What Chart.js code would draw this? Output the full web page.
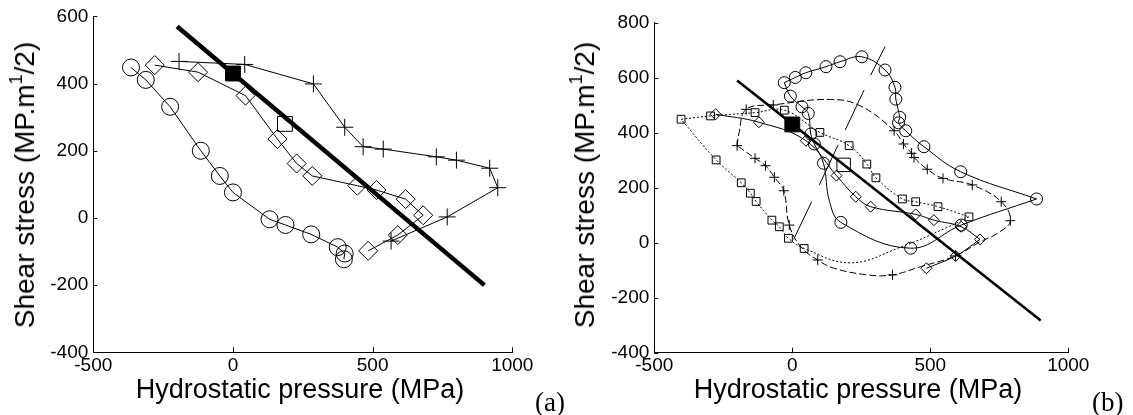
<!DOCTYPE html>
<html><head><meta charset="utf-8">
<script src="https://cdn.jsdelivr.net/npm/chart.js@4/dist/chart.umd.min.js"></script>
<style>
html,body{margin:0;padding:0;background:#fff;}
#wrap{position:relative;width:1133px;height:415px;overflow:hidden;background:#fff;font-family:"Liberation Sans",Arial,sans-serif;color:#000;}
canvas{position:absolute;top:0;}
.xt{position:absolute;font-size:27px;line-height:27px;white-space:nowrap;transform:translateX(-50%);}
.yt{position:absolute;font-size:28px;line-height:28px;white-space:nowrap;transform:translate(-50%,-50%) rotate(-90deg);}
.yt sup{font-size:18px;line-height:0;vertical-align:0;position:relative;top:-12px;}
.pl{position:absolute;font-family:"Liberation Serif","Times New Roman",serif;font-size:27px;line-height:27px;white-space:nowrap;}
</style></head>
<body><div id="wrap">
<canvas id="ca" width="560" height="415" style="left:0;width:560px;height:415px"></canvas>
<canvas id="cb" width="573" height="415" style="left:560px;width:573px;height:415px"></canvas>
<div class="xt" style="left:300px;top:376px">Hydrostatic pressure (MPa)</div>
<div class="xt" style="left:858px;top:376px">Hydrostatic pressure (MPa)</div>
<div class="yt" style="left:25px;top:185px">Shear stress (MP.m<sup>1</sup>/2)</div>
<div class="yt" style="left:585px;top:185px">Shear stress (MP.m<sup>1</sup>/2)</div>
<div class="pl" style="left:535px;top:389px">(a)</div>
<div class="pl" style="left:1092px;top:389px">(b)</div>
</div>
<script>
// ---------- tick labels ----------
const xTicks = [-500, 0, 500, 1000];
const aYTicks = [-400, -200, 0, 200, 400, 600];
const bYTicks = [-400, -200, 0, 200, 400, 600, 800];

// ---------- panel (a) ----------
const aCircleX = [-365, -312, -225, -115, -47, 0, 131, 188, 280, 375, 400, 397];
const aCircleY = [448, 411, 331, 200, 125, 76, -4, -21, -49, -87, -106, -123];
const aDiamondX = [-280, -125, 45, 159, 228, 284, 445, 514, 618, 681, 590, 484];
const aDiamondY = [455, 434, 364, 235, 162, 125, 96, 83, 56, 8, -51, -98];
const aPlusX = [-193, 42, 288, 400, 466, 538, 728, 800, 919, 948, 767, 566];
const aPlusY = [466, 457, 399, 270, 212, 205, 182, 172, 148, 90, 3, -69];
const aFitX = [-200, 900];
const aFitY = [570, -200];
const aRefX = [0], aRefY = [430];
const aOpenX = [186], aOpenY = [280];

// ---------- panel (b) ----------
const bFitX = [-200, 0, 900];
const bFitY = [590, 432, -283];
const bRefX = [0], bRefY = [430];
const bOpenX = [186], bOpenY = [283];

const bCircleX = [-29, 11, 49, 122, 173, 252, 336, 372, 375, 389, 385, 411, 477, 610, 885, 612, 429, 176, 113, 80, 67, 58, 35, -7];
const bCircleY = [582, 601, 618, 640, 658, 676, 628, 565, 522, 456, 436, 407, 349, 258, 159, 64, -20, 74, 289, 359, 395, 470, 494, 533];
const bCircleArc1X = [-29, 11, 49, 122, 173, 252, 336, 372, 375, 389, 385, 411, 477, 610, 885];
const bCircleArc1Y = [582, 601, 618, 640, 658, 676, 628, 565, 522, 456, 436, 407, 349, 258, 159];
const bCircleArc2X = [885, 612, 429, 176, 135, 113, 80, 67, 58, 35, -7, -29];
const bCircleArc2Y = [159, 64, -20, 74, 150, 289, 359, 395, 470, 494, 533, 582];

const bDiamondX = [-278, -121, 49, 160, 230, 284, 447, 513, 612, 680, 592, 486];
const bDiamondY = [467, 438, 371, 244, 167, 131, 103, 82, 58, 12, -48, -93];
const bDiamondArc1X = [-278, -121, 49, 160, 230, 284, 447, 513, 612, 680];
const bDiamondArc1Y = [467, 438, 371, 244, 167, 131, 103, 82, 58, 12];
const bDiamondArc2X = [680, 592, 486];
const bDiamondArc2Y = [12, -48, -93];

const bPlusX = [-167, -69, 369, 403, 432, 441, 489, 546, 652, 757, 790, 591, 363, 92, -11, -31, -65, -97, -135, -200];
const bPlusY = [485, 501, 407, 359, 325, 310, 267, 234, 210, 149, 80, -48, -117, -63, 64, 189, 238, 280, 307, 353];
const bPlusPathX = [-200, -193, -167, -69, 139, 248, 369, 403, 432, 441, 489, 546, 652, 757, 790, 743, 682, 591, 465, 363, 272, 152, 92, 31, -11, -31, -65, -97, -135, -200];
const bPlusPathY = [353, 400, 485, 501, 521, 497, 407, 359, 325, 310, 267, 234, 210, 149, 80, 34, 4, -48, -87, -117, -117, -93, -63, -15, 64, 189, 238, 280, 307, 353];

const bSquareX = [-403, -296, -135, -29, 100, 206, 270, 303, 399, 447, 528, 640, 43, -14, -47, -74, -131, -152, -185, -276];
const bSquareY = [449, 461, 473, 482, 401, 353, 286, 236, 159, 149, 131, 94, -21, 16, 58, 82, 150, 180, 218, 301];
const bSquareArc1X = [-403, -296, -135, -29, 100, 206, 270, 303, 399, 447, 528, 640];
const bSquareArc1Y = [449, 461, 473, 482, 401, 353, 286, 236, 159, 149, 131, 94];
const bSquareArc2X = [640, 560, 395, 212, 43, -14, -47, -74, -131, -152, -185, -276, -403];
const bSquareArc2Y = [94, 55, -15, -73, -21, 16, 58, 82, 150, 180, 218, 301, 449];

const bSegX1 = [284, 192, 98, 5];
const bSegY1 = [609, 410, 210, 12];
const bSegX2 = [336, 260, 166, 70];
const bSegY2 = [713, 555, 356, 149];

// ---------- helpers ----------
const FONT = '"Liberation Sans", Arial, sans-serif';
const pts = (xs, ys) => xs.map((x, i) => ({x: x, y: ys[i]}));
function curve(xs, ys, width, dash, tension) {
  return {data: pts(xs, ys), showLine: true, pointRadius: 0, borderColor: '#000',
    borderWidth: width, borderDash: dash || [], tension: tension || 0, fill: false};
}
function marks(xs, ys, style, r, fillColor, lineThrough) {
  return {data: pts(xs, ys), showLine: !!lineThrough, borderColor: '#000', borderWidth: 1,
    pointStyle: style, pointRadius: r, pointBorderColor: '#000', pointBorderWidth: 1,
    pointBackgroundColor: fillColor || 'rgba(0,0,0,0)', tension: 0, fill: false};
}
const inwardTicks = {
  id: 'inwardTicks',
  afterDraw(chart) {
    const {ctx, chartArea: ca, scales} = chart;
    ctx.save();
    ctx.strokeStyle = '#000'; ctx.lineWidth = 1;
    scales.x.ticks.forEach(t => {
      const px = Math.round(scales.x.getPixelForValue(t.value)) + 0.5;
      ctx.beginPath(); ctx.moveTo(px, ca.bottom); ctx.lineTo(px, ca.bottom - 5); ctx.stroke();
    });
    scales.y.ticks.forEach(t => {
      const py = Math.round(scales.y.getPixelForValue(t.value)) + 0.5;
      ctx.beginPath(); ctx.moveTo(ca.left, py); ctx.lineTo(ca.left + 4, py); ctx.stroke();
    });
    ctx.restore();
  }
};
function makeChart(id, yTicks, area, datasets) {
  return new Chart(document.getElementById(id), {
    type: 'scatter',
    data: {datasets: datasets},
    options: {
      responsive: false, animation: false, events: [], devicePixelRatio: 1,
      layout: {padding: {top: area.top, right: area.right, left: 0, bottom: 0}},
      plugins: {legend: {display: false}, tooltip: {enabled: false}},
      scales: {
        x: {
          type: 'linear', min: xTicks[0], max: xTicks[xTicks.length - 1],
          afterBuildTicks(s) { s.ticks = xTicks.map(v => ({value: v})); },
          afterFit(s) { s.height = area.xh; },
          ticks: {color: '#000', font: {family: FONT, size: 19}, padding: 2, maxRotation: 0, autoSkip: false,
            callback: v => String(v)},
          grid: {display: false, drawTicks: false},
          border: {display: true, color: '#000', width: 1}
        },
        y: {
          type: 'linear', min: yTicks[0], max: yTicks[yTicks.length - 1],
          afterBuildTicks(s) { s.ticks = yTicks.map(v => ({value: v})); },
          afterFit(s) { s.width = area.yw; },
          ticks: {color: '#000', font: {family: FONT, size: 19}, padding: 5, autoSkip: false,
            callback: v => String(v)},
          grid: {display: false, drawTicks: false},
          border: {display: true, color: '#000', width: 1}
        }
      }
    },
    plugins: [inwardTicks]
  });
}

// ---------- panel (a) ----------
makeChart('ca', aYTicks, {top: 15, right: 47.7, xh: 62.7, yw: 93.3}, [
  marks(aRefX, aRefY, 'rect', 10.5, '#000'),
  curve(aFitX, aFitY, 4.5),
  marks(aOpenX, aOpenY, 'rect', 10.5),
  marks(aCircleX, aCircleY, 'circle', 8.5, null, true),
  marks(aDiamondX, aDiamondY, 'rectRot', 9.5, null, true),
  marks(aPlusX, aPlusY, 'cross', 8.5, null, true)
]);

// ---------- panel (b) ----------
const bSegs = bSegX1.map((x, i) => curve([x, bSegX2[i]], [bSegY1[i], bSegY2[i]], 1));
makeChart('cb', bYTicks, {top: 22.7, right: 64.7, xh: 62.3, yw: 94.3}, [
  marks(bRefX, bRefY, 'rect', 10.5, '#000'),
  curve(bFitX, bFitY, 2.6),
  marks(bOpenX, bOpenY, 'rect', 9.5),
  curve(bCircleArc1X, bCircleArc1Y, 1, null, 0.4),
  curve(bCircleArc2X, bCircleArc2Y, 1, null, 0.4),
  marks(bCircleX, bCircleY, 'circle', 6),
  curve(bDiamondArc1X, bDiamondArc1Y, 1, null, 0.4),
  curve(bDiamondArc2X, bDiamondArc2Y, 1, null, 0.4),
  marks(bDiamondX, bDiamondY, 'rectRot', 5.5),
  curve(bPlusPathX, bPlusPathY, 1, [7, 3], 0.4),
  marks(bPlusX, bPlusY, 'cross', 5),
  curve(bSquareArc1X, bSquareArc1Y, 1, [2, 2], 0.4),
  curve(bSquareArc2X, bSquareArc2Y, 1, [2, 2], 0.4),
  marks(bSquareX, bSquareY, 'rect', 5.5)
].concat(bSegs));
</script>
</body></html>
